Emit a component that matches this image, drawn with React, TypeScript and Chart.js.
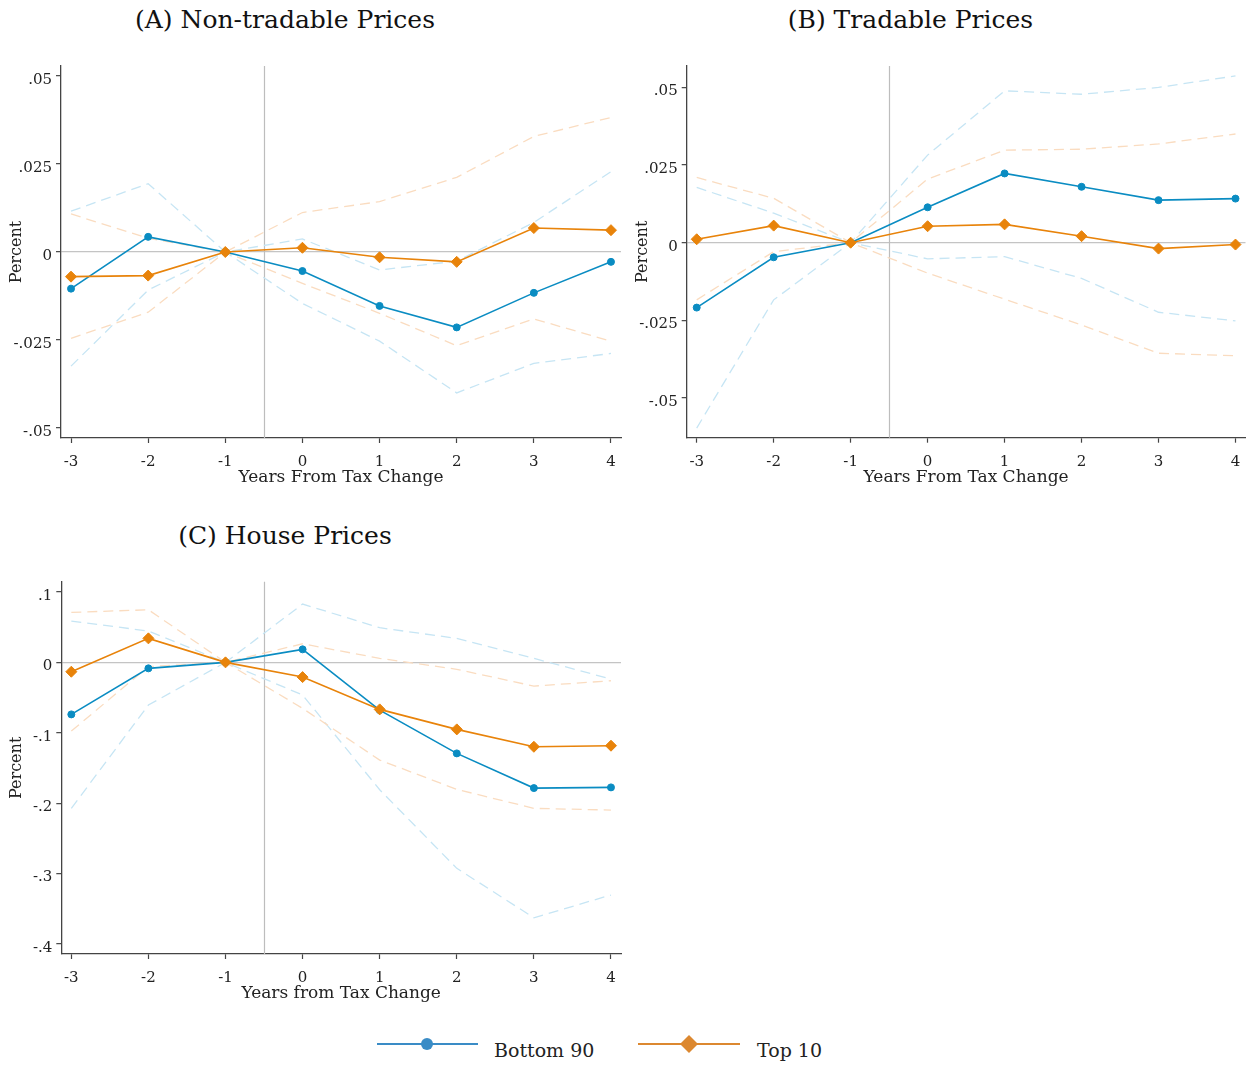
import React, { useEffect, useRef } from 'react';
import { Chart, registerables } from 'chart.js';
Chart.register(...registerables);

// ---------- data ----------
const YEARS = [-3, -2, -1, 0, 1, 2, 3, 4];
const EVENT_LINE = -0.5;

const A_TITLE = '(A) Non-tradable Prices';
const A_XTITLE = 'Years From Tax Change';
const A_YTICKS = [-0.05, -0.025, 0, 0.025, 0.05];
const A_B90 = [-0.0104, 0.0043, 0, -0.0054, -0.0153, -0.0214, -0.0116, -0.0028];
const A_T10 = [-0.0070, -0.0067, 0, 0.0012, -0.0015, -0.0028, 0.0068, 0.0062];
const A_B90_HI = [0.0116, 0.0194, 0, 0.0037, -0.0051, -0.0026, 0.0084, 0.0228];
const A_B90_LO = [-0.0324, -0.0108, 0, -0.0146, -0.0253, -0.0400, -0.0316, -0.0288];
const A_T10_HI = [0.0108, 0.0039, 0, 0.0112, 0.0143, 0.0212, 0.0328, 0.0382];
const A_T10_LO = [-0.0245, -0.0171, 0, -0.0089, -0.0174, -0.0266, -0.0190, -0.0253];

const B_TITLE = '(B) Tradable Prices';
const B_XTITLE = 'Years From Tax Change';
const B_YTICKS = [-0.05, -0.025, 0, 0.025, 0.05];
const B_B90 = [-0.0209, -0.0047, 0, 0.0114, 0.0223, 0.0180, 0.0137, 0.0142];
const B_T10 = [0.0011, 0.0055, 0, 0.0053, 0.0059, 0.0021, -0.0019, -0.0006];
const B_B90_HI = [0.0178, 0.0095, 0, 0.0282, 0.0489, 0.0478, 0.0500, 0.0537];
const B_B90_LO = [-0.0597, -0.0184, 0, -0.0052, -0.0045, -0.0115, -0.0224, -0.0252];
const B_T10_HI = [0.0210, 0.0143, 0, 0.0205, 0.0298, 0.0301, 0.0318, 0.0350];
const B_T10_LO = [-0.0184, -0.0029, 0, -0.0098, -0.0182, -0.0265, -0.0356, -0.0364];

const C_TITLE = '(C) House Prices';
const C_XTITLE = 'Years from Tax Change';
const C_YTICKS = [-0.4, -0.3, -0.2, -0.1, 0, 0.1];
const C_B90 = [-0.0739, -0.0085, 0, 0.0185, -0.0678, -0.1293, -0.1786, -0.1776];
const C_T10 = [-0.0133, 0.0341, 0, -0.0209, -0.0668, -0.0952, -0.1199, -0.1184];
const C_B90_HI = [0.0587, 0.0445, 0, 0.0828, 0.0492, 0.0341, 0.0057, -0.0237];
const C_B90_LO = [-0.2074, -0.0606, 0, -0.0464, -0.181, -0.2926, -0.3628, -0.3305];
const C_T10_HI = [0.0710, 0.0747, 0, 0.0264, 0.0057, -0.0099, -0.0337, -0.0261];
const C_T10_LO = [-0.0976, -0.006, 0, -0.0653, -0.1388, -0.1804, -0.2074, -0.2098];

const Y_TITLE = 'Percent';
const LEGEND_B90 = 'Bottom 90';
const LEGEND_T10 = 'Top 10';

// ---------- styles ----------
const FONT = "'DejaVu Serif', serif";
const BLUE = '#0a8cc2';
const ORANGE = '#e8830a';
const BLUE_CI = '#c6e5f4';
const ORANGE_CI = '#fadcc0';
const LEG_BLUE = '#3a8cc6';
const LEG_ORANGE = '#dc8830';

type Panel = {
  left: number; top: number; width: number; height: number;
  pad: { top: number; right: number; bottom: number; left: number };
  yWidth: number; xHeight: number;
  yMin: number; yMax: number; yTicks: number[];
  xTitle: string;
  b90: number[]; t10: number[];
  b90Hi: number[]; b90Lo: number[]; t10Hi: number[]; t10Lo: number[];
};

const fmtY = (v: number) => {
  if (Math.abs(v) < 1e-12) return '0';
  const s = String(Math.abs(v)).replace(/^0/, '');
  return (v < 0 ? '-' : '') + s;
};

const pts = (ys: number[]) => YEARS.map((x, i) => ({ x, y: ys[i] }));

const eventLinePlugin = {
  id: 'eventLine',
  beforeDatasetsDraw(chart: any) {
    const { ctx, chartArea, scales } = chart;
    const x = Math.round(scales.x.getPixelForValue(EVENT_LINE)) + 0.5;
    ctx.save();
    ctx.strokeStyle = '#bdbdbd';
    ctx.lineWidth = 1.2;
    ctx.beginPath();
    ctx.moveTo(x, chartArea.top);
    ctx.lineTo(x, chartArea.bottom);
    ctx.stroke();
    ctx.restore();
  },
};

function PanelChart({ p }: { p: Panel }) {
  const ref = useRef<HTMLCanvasElement | null>(null);
  useEffect(() => {
    if (!ref.current) return;
    const ci = (data: number[], color: string) => ({
      data: pts(data),
      borderColor: color,
      borderWidth: 1.3,
      borderDash: [10, 6],
      pointRadius: 0,
      fill: false,
      tension: 0,
    });
    const chart = new Chart(ref.current, {
      type: 'line',
      data: {
        datasets: [
          {
            label: LEGEND_T10,
            data: pts(p.t10),
            borderColor: ORANGE,
            backgroundColor: ORANGE,
            borderWidth: 1.6,
            pointStyle: 'rectRot',
            pointRadius: 5.5,
            pointBorderWidth: 1,
            pointBorderColor: ORANGE,
            pointBackgroundColor: ORANGE,
            tension: 0,
          },
          {
            label: LEGEND_B90,
            data: pts(p.b90),
            borderColor: BLUE,
            backgroundColor: BLUE,
            borderWidth: 1.6,
            pointStyle: 'circle',
            pointRadius: 3.5,
            pointBorderWidth: 1,
            pointBorderColor: BLUE,
            pointBackgroundColor: BLUE,
            tension: 0,
          },
          ci(p.t10Hi, ORANGE_CI),
          ci(p.t10Lo, ORANGE_CI),
          ci(p.b90Hi, BLUE_CI),
          ci(p.b90Lo, BLUE_CI),
        ] as any,
      },
      options: {
        animation: false,
        responsive: false,
        maintainAspectRatio: false,
        layout: { padding: p.pad },
        plugins: {
          legend: { display: false },
          title: { display: false },
          tooltip: { enabled: false },
        },
        scales: {
          x: {
            type: 'linear',
            min: -3.13,
            max: 4.13,
            offset: false,
            afterBuildTicks: (s: any) => { s.ticks = YEARS.map((v) => ({ value: v })); },
            afterFit: (s: any) => { s.height = p.xHeight; },
            ticks: {
              callback: (v: any) => String(v),
              font: { family: FONT, size: 15 },
              color: '#222',
              padding: 10,
              maxRotation: 0,
              autoSkip: false,
            },
            grid: { drawOnChartArea: false, drawTicks: true, tickLength: 5, tickColor: '#444', tickWidth: 1.2 },
            border: { display: true, color: '#444', width: 1.3 },
            title: {
              display: true,
              text: p.xTitle,
              font: { family: FONT, size: 17 },
              color: '#222',
              padding: { top: 0, bottom: 5 },
            },
          },
          y: {
            type: 'linear',
            min: p.yMin,
            max: p.yMax,
            afterBuildTicks: (s: any) => { s.ticks = p.yTicks.map((v) => ({ value: v })); },
            afterFit: (s: any) => { s.width = p.yWidth; },
            ticks: {
              callback: (v: any) => fmtY(Number(v)),
              font: { family: FONT, size: 15 },
              color: '#222',
              padding: 4,
              labelOffset: 4,
              autoSkip: false,
            },
            grid: {
              drawOnChartArea: true,
              drawTicks: true,
              tickLength: 5,
              tickWidth: 1.2,
              lineWidth: 1.3,
              color: (ctx: any) => (ctx.tick && Math.abs(ctx.tick.value) < 1e-12 ? '#c4c4c4' : 'rgba(0,0,0,0)'),
              tickColor: '#444',
            },
            border: { display: true, color: '#444', width: 1.3 },
            title: {
              display: true,
              text: Y_TITLE,
              font: { family: FONT, size: 16 },
              color: '#222',
              padding: { top: 7, bottom: 0 },
            },
          },
        },
      } as any,
      plugins: [eventLinePlugin],
    });
    return () => chart.destroy();
  }, [p]);
  return (
    <div style={{ position: 'absolute', left: p.left, top: p.top, width: p.width, height: p.height }}>
      <canvas ref={ref} width={p.width} height={p.height} style={{ width: p.width, height: p.height, display: 'block' }} />
    </div>
  );
}

const PANEL_A: Panel = {
  left: 0, top: 0, width: 630, height: 500,
  pad: { top: 66, right: 9, bottom: 7, left: 0 },
  yWidth: 61, xHeight: 55,
  yMin: -0.0528, yMax: 0.0528, yTicks: A_YTICKS, xTitle: A_XTITLE,
  b90: A_B90, t10: A_T10, b90Hi: A_B90_HI, b90Lo: A_B90_LO, t10Hi: A_T10_HI, t10Lo: A_T10_LO,
};
const PANEL_B: Panel = {
  left: 626, top: 0, width: 626, height: 500,
  pad: { top: 66, right: 5.3, bottom: 7.3, left: 0 },
  yWidth: 60.7, xHeight: 55,
  yMin: -0.0628, yMax: 0.0569, yTicks: B_YTICKS, xTitle: B_XTITLE,
  b90: B_B90, t10: B_T10, b90Hi: B_B90_HI, b90Lo: B_B90_LO, t10Hi: B_T10_HI, t10Lo: B_T10_LO,
};
const PANEL_C: Panel = {
  left: 0, top: 516, width: 630, height: 500,
  pad: { top: 65.7, right: 9, bottom: 7, left: 0 },
  yWidth: 61.3, xHeight: 55,
  yMin: -0.4143, yMax: 0.1146, yTicks: C_YTICKS, xTitle: C_XTITLE,
  b90: C_B90, t10: C_T10, b90Hi: C_B90_HI, b90Lo: C_B90_LO, t10Hi: C_T10_HI, t10Lo: C_T10_LO,
};

const titleStyle = (cx: number, cy: number): React.CSSProperties => ({
  position: 'absolute', left: cx - 300, top: cy - 16, width: 600, height: 32,
  lineHeight: '32px', textAlign: 'center', fontFamily: FONT, fontSize: 25, color: '#111', whiteSpace: 'nowrap',
});

const legTextStyle = (x: number): React.CSSProperties => ({
  position: 'absolute', left: x, top: 1038, height: 24, lineHeight: '24px',
  fontFamily: FONT, fontSize: 19, color: '#222', whiteSpace: 'nowrap',
});

export default function App() {
  return (
    <div style={{ position: 'absolute', left: 0, top: 0, width: 1252, height: 1065, background: '#fff', overflow: 'hidden' }}>
      <div style={titleStyle(285, 20)}>{A_TITLE}</div>
      <div style={titleStyle(910.5, 20)}>{B_TITLE}</div>
      <div style={titleStyle(285, 536)}>{C_TITLE}</div>
      <PanelChart p={PANEL_A} />
      <PanelChart p={PANEL_B} />
      <PanelChart p={PANEL_C} />
      <svg style={{ position: 'absolute', left: 370, top: 1030, overflow: 'visible' }} width={480} height={30}>
        <line x1={7} y1={14} x2={108} y2={14} stroke={LEG_BLUE} strokeWidth={2} />
        <circle cx={57} cy={14} r={6} fill={LEG_BLUE} />
        <line x1={268} y1={14} x2={370} y2={14} stroke={LEG_ORANGE} strokeWidth={2} />
        <polygon points="319,5 328,14 319,23 310,14" fill={LEG_ORANGE} />
      </svg>
      <div style={legTextStyle(494)}>{LEGEND_B90}</div>
      <div style={legTextStyle(757)}>{LEGEND_T10}</div>
    </div>
  );
}
